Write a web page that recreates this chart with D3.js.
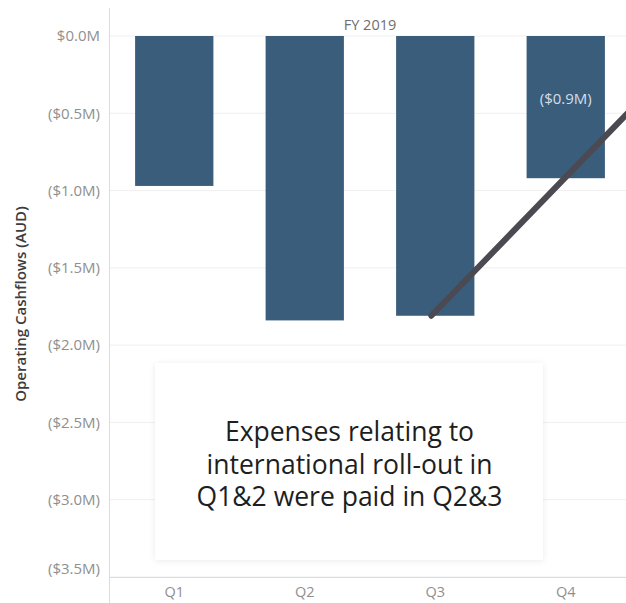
<!DOCTYPE html>
<html>
<head>
<meta charset="utf-8">
<script src="https://cdn.jsdelivr.net/npm/d3@7"></script>
<style>
body { margin: 0; background: #fff; }
svg { display: block; font-family: "Open Sans", "Noto Sans", sans-serif; }
</style>
</head>
<body>
<script>
// quarters and operating cashflows (AUD millions)
var quarters = ["Q1", "Q2", "Q3", "Q4"];
var cashflows = [-0.97, -1.84, -1.81, -0.92];
var yTicks = [0, -0.5, -1.0, -1.5, -2.0, -2.5, -3.0, -3.5];
var labelled = ["Q4"];
var noteLines = ["Expenses relating to", "international roll-out in", "Q1&2 were paid in Q2&3"];

var width = 626, height = 603;
var margin = { top: 36, left: 109, bottom: 26 };

var svg = d3.select("body").append("svg")
	.attr("width", width)
	.attr("height", height);

var x = d3.scaleBand()
	.domain(quarters)
	.range([margin.left, 631])
	.paddingInner(0.4)
	.paddingOuter(0.2);

var y = d3.scaleLinear()
	.domain([0, -3.5])
	.range([margin.top, height - margin.bottom]);

function fmt(v) {
	var s = "$" + Math.abs(v).toFixed(1) + "M";
	return v < 0 ? "(" + s + ")" : s;
}

// grid lines
svg.append("g")
	.selectAll("line")
	.data(yTicks)
	.enter()
	.append("line")
	.attr("x1", margin.left)
	.attr("x2", width)
	.attr("y1", function (d) { return y(d); })
	.attr("y2", function (d) { return y(d); })
	.attr("stroke", "#efefef")
	.attr("stroke-width", 1);

// y axis
var yAxis = svg.append("g")
	.attr("transform", "translate(" + margin.left + ",0)")
	.call(d3.axisLeft(y).tickValues(yTicks).tickFormat(fmt).tickSize(0).tickPadding(9))
	.attr("font-family", null);
yAxis.select(".domain").remove();
yAxis.selectAll("text")
	.attr("fill", "#8f8f8f")
	.attr("font-size", "15px")
	.attr("y", function (d) { return d === -3.5 ? -8 : 0; });

// axis frame lines
svg.append("line")
	.attr("x1", margin.left + 0.5).attr("x2", margin.left + 0.5)
	.attr("y1", 8).attr("y2", height)
	.attr("stroke", "#dcdcdc");
svg.append("line")
	.attr("x1", margin.left).attr("x2", width)
	.attr("y1", y(-3.5) + 0.5).attr("y2", y(-3.5) + 0.5)
	.attr("stroke", "#dcdcdc");

// x axis labels
var xAxis = svg.append("g")
	.attr("transform", "translate(0," + y(-3.5) + ")")
	.call(d3.axisBottom(x).tickSize(0).tickPadding(10))
	.attr("font-family", null);
xAxis.select(".domain").remove();
xAxis.selectAll("text")
	.attr("fill", "#8f8f8f")
	.attr("font-size", "14.5px");

// column header
svg.append("text")
	.attr("x", (x.range()[0] + x.range()[1]) / 2)
	.attr("y", 30)
	.attr("text-anchor", "middle")
	.attr("fill", "#6e6e6e")
	.attr("font-size", "14.5px")
	.text("FY 2019");

// axis title
svg.append("text")
	.attr("transform", "translate(26,304) rotate(-90)")
	.attr("text-anchor", "middle")
	.attr("fill", "#3c3c3c")
	.attr("font-size", "15px")
	.attr("font-weight", "600")
	.text("Operating Cashflows (AUD)");

// bars
svg.selectAll(".bar")
	.data(quarters)
	.enter()
	.append("rect")
	.attr("class", "bar")
	.attr("x", function (d) { return x(d); })
	.attr("y", y(0))
	.attr("width", x.bandwidth())
	.attr("height", function (d, i) { return y(cashflows[i]) - y(0); })
	.attr("fill", "#3a5d7b");

// bar label
svg.selectAll(".barLabel")
	.data(labelled)
	.enter()
	.append("text")
	.attr("x", function (d) { return x(d) + x.bandwidth() / 2; })
	.attr("y", y(-0.44))
	.attr("text-anchor", "middle")
	.attr("fill", "#d5dee7")
	.attr("font-size", "15px")
	.text(function (d) { return fmt(cashflows[quarters.indexOf(d)]); });

// pointer line from Q3 bar bottom up to the right
var q3 = quarters.indexOf("Q3");
var x0 = x("Q3") + x.bandwidth() * 0.45, y0 = y(cashflows[q3]);
var x1 = 626, y1 = y(-0.51);
svg.append("line")
	.attr("x1", x0).attr("y1", y0)
	.attr("x2", x1 + (x1 - x0) * 0.1).attr("y2", y1 + (y1 - y0) * 0.1)
	.attr("stroke", "#4b4a52")
	.attr("stroke-width", 6)
	.attr("stroke-linecap", "round");

// annotation box
var defs = svg.append("defs");
var f = defs.append("filter").attr("id", "shadow").attr("x", "-10%").attr("y", "-10%").attr("width", "120%").attr("height", "120%");
f.append("feDropShadow").attr("dx", 0).attr("dy", 1).attr("stdDeviation", 3).attr("flood-color", "#000").attr("flood-opacity", 0.08);

var box = svg.append("g");
box.append("rect")
	.attr("x", 155).attr("y", 363)
	.attr("width", 388).attr("height", 197)
	.attr("fill", "#fff")
	.attr("filter", "url(#shadow)");
box.selectAll("text")
	.data(noteLines)
	.enter()
	.append("text")
	.attr("x", 349.5)
	.attr("y", function (d, i) { return 441 + i * 32.5; })
	.attr("text-anchor", "middle")
	.attr("fill", "#1e1e1e")
	.attr("font-size", "26.5px")
	.text(function (d) { return d; });
</script>
</body>
</html>
